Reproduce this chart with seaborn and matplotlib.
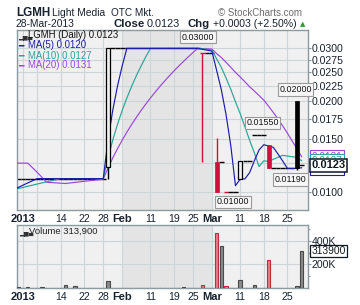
import numpy as np
import pandas as pd
import matplotlib
matplotlib.use("Agg")
import matplotlib.pyplot as plt
import matplotlib.ticker as mticker
import seaborn as sns

# ---------------- data ----------------
# closes of the 20 sessions before the visible window (read back from the MA lines)
prior_close = [0.0111, 0.0111, 0.0111, 0.0196, 0.0196, 0.0196, 0.0196,
               0.0116, 0.0116, 0.0116, 0.0116,
               0.0102, 0.0102, 0.0102, 0.0102, 0.0102, 0.0102, 0.0102, 0.0102, 0.0102]

# visible sessions: day -1 = 31-Dec-2012 ... day 59 = 28-Mar-2013 (trading days)
day = list(range(-1, 60))
close = [
    0.0111, 0.0111, 0.0111, 0.0111, 0.0111, 0.0111, 0.0111, 0.0111, 0.0111, 0.0111,
    0.0111, 0.0111, 0.0111, 0.0111, 0.0111, 0.0111, 0.0111, 0.0111, 0.0111,
    0.0300, 0.0300, 0.0300, 0.0300, 0.0300, 0.0300, 0.0300, 0.0300, 0.0300, 0.0300,
    0.0300, 0.0300, 0.0300, 0.0300, 0.0300, 0.0300, 0.0300, 0.0300, 0.0300, 0.0300,
    0.0290, 0.0290, 0.0290,
    0.0100, 0.0126, 0.0100, 0.0100, 0.0100,
    0.0127, 0.0127, 0.0127,
    0.0155, 0.0155, 0.0155,
    0.0120, 0.0120, 0.0120, 0.0120, 0.0120, 0.0120, 0.0120,
    0.0123]

# sessions whose open/high/low differ from the close
candle_day = [18, 38, 41, 46, 52, 58]
candle_open = [0.0121, 0.0290, 0.0126, 0.0111, 0.01435, 0.0200]
candle_high = [0.0300, 0.0290, 0.0151, 0.0127, 0.01435, 0.0200]
candle_low = [0.0111, 0.0126, 0.0100, 0.0111, 0.0120, 0.0119]

volume = [
    8000, 0, 8000, 0, 0, 6000, 0, 0, 0, 0,
    22000, 0, 14000, 0, 0, 0, 0, 0, 0, 57000,
    0, 0, 0, 0, 0, 0, 0, 0, 0, 0,
    0, 0, 0, 0, 0, 8000, 0, 0, 0, 22000,
    0, 0, 466000, 357000, 14000, 0, 0, 65000, 0, 0,
    22000, 0, 0, 234000, 0, 0, 0, 0, 0, 14000,
    313900]

tick_day = [0, 8, 13, 17, 21, 27, 32, 36, 40, 46, 51, 56]
tick_label = ["2013", "14", "22", "28", "Feb", "11", "19", "25", "Mar", "11", "18", "25"]
bold_label = ["2013", "Feb", "Mar"]

price_ticks = [0.0100, 0.0125, 0.0150, 0.0175, 0.0200, 0.0225, 0.0250, 0.0275, 0.0300]
price_tick_labels = ["0.0100", "", "0.0150", "0.0175", "0.0200", "0.0225", "0.0250",
                     "0.0275", "0.0300"]   # 0.0125 is hidden behind the value tags
volume_ticks = [200000, 400000]
volume_tick_labels = ["200K", "400K"]

ma_names = ["MA(20)", "MA(10)", "MA(5)"]
ma_windows = [20, 10, 5]
ma_last = ["0.0131", "0.0127", "0.0120"]

extreme_text = ["0.03000", "0.01000", "0.01550", "0.02000", "0.01190"]
extreme_day = [37, 44, 50, 58, 58]
extreme_value = [0.0300, 0.0100, 0.0155, 0.0200, 0.0119]

# ---------------- styles ----------------
plt.rcParams['font.family'] = ['Liberation Sans', 'DejaVu Sans']
ma_colors = {"MA(5)": "#1c1caa", "MA(10)": "#2aa398", "MA(20)": "#9a46de"}
RED = "#d10f3c"
BG = "#f0f0f0"
SHADE = "#e4e4e4"
GRID = "#cdd5d8"
SPINE = "#8d9aa0"
TXT = "#18222e"

W, H = 360, 305
fig = plt.figure(figsize=(W / 100, H / 100), dpi=100)


def fx(x):
    return x / W


def fy(y):
    return 1 - y / H


ax = fig.add_axes([fx(17), fy(210), 290.7 / W, 180 / H])
axv = fig.add_axes([fx(17), fy(287.7), 290.7 / W, 62.7 / H])

# ---------------- data frames ----------------
full = pd.Series(prior_close + close, index=range(-21, 60))
ma = pd.DataFrame({n: full.rolling(w).mean() for n, w in zip(ma_names, ma_windows)})
ma = ma.loc[-2:].reset_index().rename(columns={"index": "day"})
ma_long = ma.melt(id_vars="day", var_name="series", value_name="value")

px = pd.DataFrame({"day": day, "close": close, "volume": volume})
px["open"] = px["close"]
px["high"] = px["close"]
px["low"] = px["close"]
for d, o, h, l in zip(candle_day, candle_open, candle_high, candle_low):
    px.loc[px.day == d, ["open", "high", "low"]] = [o, h, l]
px["prev"] = [prior_close[-1]] + close[:-1]
px["down"] = px["close"] < px["prev"]

# ---------------- panels ----------------
for a in (ax, axv):
    a.set_facecolor(BG)
    a.axvspan(21, 40, color=SHADE, zorder=0, lw=0)
    a.set_xlim(-1.27, 60.3)
    a.set_xticks(tick_day)
    a.set_xticks([3], minor=True)
    a.grid(True, which="both", axis="x", color=GRID, lw=0.8, zorder=1)
    a.grid(True, which="major", axis="y", color=GRID, lw=0.8, zorder=1)
    a.set_axisbelow(True)
    for s in a.spines.values():
        s.set_color(SPINE)
        s.set_linewidth(1.0)
    a.tick_params(axis="x", which="both", length=0, pad=3.2, labelsize=7.6, labelcolor=TXT)
    a.set_xticklabels(tick_label)
    for t in a.get_xticklabels():
        if t.get_text() in bold_label:
            t.set_fontweight("bold")
            t.set_fontsize(8)
    a.yaxis.tick_right()
    a.tick_params(axis="y", which="both", direction="out", length=2.2, width=0.8,
                  color=SPINE, pad=0.6, labelsize=7.6, labelcolor=TXT)

ax.set_yscale("log")
ax.set_ylim(0.008736, 0.03452)
ax.yaxis.set_major_locator(mticker.FixedLocator(price_ticks))
ax.yaxis.set_major_formatter(mticker.FixedFormatter(price_tick_labels))
ax.yaxis.set_minor_locator(mticker.NullLocator())

# price marks
for _, r in px.iterrows():
    d, o, h, l, c = r.day, r.open, r.high, r.low, r.close
    col = RED if r.down else "black"
    if o == c:
        ax.hlines(c, d - 0.5, d + 0.5, color=col, lw=1.0, zorder=2)
        if h > c or l < c:
            ax.vlines(d, l, h, color=col, lw=1.0, zorder=2)
    else:
        ax.vlines(d, l, h, color=col, lw=1.0, zorder=4)
        lo, hi = min(o, c), max(o, c)
        if c > o:
            ax.bar(d, hi - lo, bottom=lo, width=0.85, facecolor=BG, edgecolor=col,
                   lw=0.9, zorder=4.5)
        else:
            ax.bar(d, hi - lo, bottom=lo, width=0.85, facecolor=col, edgecolor=col,
                   lw=0.5, zorder=4.5)

sns.lineplot(data=ma_long, x="day", y="value", hue="series", hue_order=ma_names,
             palette=ma_colors, lw=0.85, legend=False, ax=ax, zorder=3)
ax.set_xlabel("")
ax.set_ylabel("")

# high/low tags
ext_offsets = [(0, 11.3), (2.3, -9.7), (3.5, 12.2), (-1.3, 12), (-6.8, -10)]
for txt, d, v, off in zip(extreme_text, extreme_day, extreme_value, ext_offsets):
    ax.annotate(txt, xy=(d, v), xytext=off, textcoords="offset pixels",
                ha="center", va="center", fontsize=6.4, color="#111111",
                annotation_clip=False, zorder=8,
                bbox=dict(boxstyle="square,pad=0.18", fc="#f7f7f7", ec="#9a9a9a", lw=0.8))

# right value tags
ma_last_val = [float(s) for s in ma_last]
for n, s, v in zip(ma_names, ma_last, ma_last_val):
    ax.annotate(s, xy=(1, v), xycoords=("axes fraction", "data"), xytext=(4, 0),
                textcoords="offset pixels", ha="left", va="center", fontsize=7.2,
                color=ma_colors[n], annotation_clip=False, zorder=9,
                bbox=dict(boxstyle="square,pad=0.15", fc="white", ec=ma_colors[n], lw=0.8))
ax.annotate(f"{close[-1]:.4f}", xy=(1, close[-1]), xycoords=("axes fraction", "data"),
            xytext=(3.5, 0), textcoords="offset pixels", ha="left", va="center",
            fontsize=8, fontweight="bold", color="#101820", annotation_clip=False, zorder=10,
            bbox=dict(boxstyle="square,pad=0.12", fc="white", ec="#101820", lw=1.1))

# ---------------- volume panel ----------------
vcol = [("#e0808e", "#c8283c") if dn else ("#8c8c8c", "#4a4a4a") for dn in px["down"]]
axv.bar(px["day"], px["volume"], width=0.75, color=[c[0] for c in vcol],
        edgecolor=[c[1] for c in vcol], lw=0.8, zorder=3)
axv.set_ylim(0, 535000)
axv.yaxis.set_major_locator(mticker.FixedLocator(volume_ticks))
axv.yaxis.set_major_formatter(mticker.FixedFormatter(volume_tick_labels))
axv.yaxis.set_minor_locator(mticker.FixedLocator([100000, 300000, 500000]))
axv.tick_params(axis="y", which="minor", length=1.5)
axv.annotate(f"{volume[-1]}", xy=(1, volume[-1]), xycoords=("axes fraction", "data"),
             xytext=(4, 0), textcoords="offset pixels", ha="left", va="center",
             fontsize=7.4, color="#101820", annotation_clip=False, zorder=10,
             bbox=dict(boxstyle="square,pad=0.12", fc="white", ec="#101820", lw=0.9))

# ---------------- header & legends ----------------
fig.text(fx(16), fy(16), "LGMH", fontsize=8.4, fontweight="bold", color=TXT, va="baseline")
fig.text(fx(52.5), fy(16), "Light Media", fontsize=7.4, color=TXT, va="baseline")
fig.text(fx(111), fy(16), "OTC Mkt.", fontsize=7.2, color=TXT, va="baseline")
fig.text(fx(218), fy(16), "© StockCharts.com", fontsize=7.0, color="#6c6c6c", va="baseline")
fig.text(fx(16), fy(27.3), "28-Mar-2013", fontsize=7.4, color=TXT, va="baseline")
fig.text(fx(114), fy(27.3), "Close", fontsize=8.2, fontweight="bold", color=TXT, va="baseline")
fig.text(fx(147), fy(27.3), f"{close[-1]:.4f}", fontsize=7.8, color=TXT, va="baseline")
fig.text(fx(188), fy(27.3), "Chg", fontsize=8.2, fontweight="bold", color=TXT, va="baseline")
fig.text(fx(213), fy(27.3), "+0.0003 (+2.50%)", fontsize=7.6, color=TXT, va="baseline")
fig.text(fx(300), fy(26.5), "▲", fontsize=5, color="#2c9a2c", va="baseline",
         family=["DejaVu Sans"])

fig.text(fx(18.5), fy(38.5), "\u2582\u2586\u2584", fontsize=4.5, color="#333333",
         va="baseline", family=["DejaVu Sans"])
fig.text(fx(28.3), fy(38.5), f"LGMH (Daily) {close[-1]:.4f}", fontsize=6.9,
         color="#111111", va="baseline")
for i, (n, s) in enumerate(zip(["MA(5)", "MA(10)", "MA(20)"], ["0.0120", "0.0127", "0.0131"])):
    yb = 48.5 + 10 * i
    fig.text(fx(18.3), fy(yb), "\u2501", fontsize=6.5, color=ma_colors[n], va="baseline",
             family=["DejaVu Sans"])
    fig.text(fx(28.3), fy(yb), f"{n} {s}", fontsize=6.9, color=ma_colors[n], va="baseline")

fig.text(fx(19), fy(234.3), "\u2582\u2586\u2584", fontsize=4.5, color="#333333",
         va="baseline", family=["DejaVu Sans"])
fig.text(fx(29), fy(234.3), f"Volume {volume[-1]:,}", fontsize=6.8, color="#222222",
         va="baseline")

fig.savefig("out.png", dpi=100)
